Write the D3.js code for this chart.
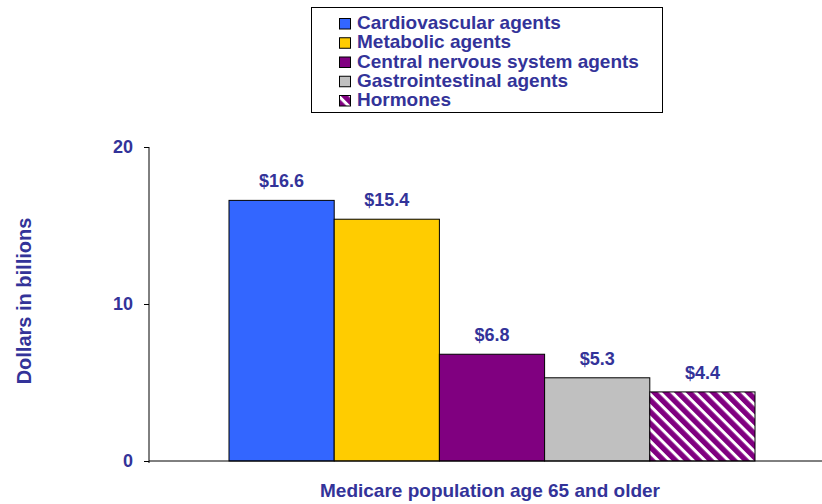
<!DOCTYPE html>
<html>
<head>
<meta charset="utf-8">
<script src="https://cdn.jsdelivr.net/npm/d3@7"></script>
<style>
  body { margin: 0; background: #fff; }
  svg text { font-family: "Liberation Sans", Arial, sans-serif; font-weight: bold; fill: #333399; }
</style>
</head>
<body>
<svg id="chart" width="822" height="504"></svg>
<script>
const categories = ['Cardiovascular agents', 'Metabolic agents', 'Central nervous system agents', 'Gastrointestinal agents', 'Hormones'];
const values = [16.6, 15.4, 6.8, 5.3, 4.4];
const colors = ['#3366ff', '#ffcc00', '#800080', '#c0c0c0', 'url(#hatch)'];
const yTicks = [0, 10, 20];
const groupLabel = 'Medicare population age 65 and older';

const svg = d3.select('#chart');

// diagonal white stripes on purple for the last series
const pat = svg.append('defs').append('pattern')
  .attr('id', 'hatch')
  .attr('patternUnits', 'userSpaceOnUse')
  .attr('width', 8.3).attr('height', 8.3)
  .attr('patternTransform', 'rotate(45)');
pat.append('rect').attr('width', 8.3).attr('height', 8.3).attr('fill', '#800080');
pat.append('rect').attr('x', 0).attr('y', 0).attr('width', 8.3).attr('height', 3).attr('fill', '#fff');

const x0 = 149, x1 = 822;
const y = d3.scaleLinear().domain([0, 20]).range([461, 147]);
const x = d3.scaleBand().domain(categories).range([229, 755]).padding(0);

// bars
svg.selectAll('rect.bar')
  .data(values)
  .join('rect')
  .attr('class', 'bar')
  .attr('x', (d, i) => x(categories[i]))
  .attr('y', d => y(d))
  .attr('width', x.bandwidth())
  .attr('height', d => y(0) - y(d))
  .attr('fill', (d, i) => colors[i])
  .attr('stroke', '#000')
  .attr('stroke-width', 1);

// value labels
svg.selectAll('text.val')
  .data(values)
  .join('text')
  .attr('class', 'val')
  .attr('x', (d, i) => x(categories[i]) + x.bandwidth() / 2)
  .attr('y', d => y(d) - 13)
  .attr('text-anchor', 'middle')
  .style('font-size', '18px')
  .text(d => '$' + d.toFixed(1));

// y axis
const yAxis = svg.append('g')
  .attr('transform', `translate(${x0},0)`)
  .call(d3.axisLeft(y).tickValues(yTicks).tickSize(5).tickPadding(11));
yAxis.select('.domain').attr('stroke', '#000').attr('d', `M0,${y(20)}V${y(0) + 2}`);
yAxis.selectAll('.tick line').attr('stroke', '#000');
yAxis.selectAll('.tick text')
  .style('font-size', '18px')
  .style('font-family', '"Liberation Sans", Arial, sans-serif')
  .style('font-weight', 'bold')
  .attr('fill', '#333399');

// x axis line
svg.append('line')
  .attr('x1', x0).attr('x2', x1)
  .attr('y1', y(0)).attr('y2', y(0))
  .attr('stroke', '#000').attr('stroke-width', 1);

// axis titles
svg.append('text')
  .attr('transform', 'translate(31,301) rotate(-90)')
  .attr('text-anchor', 'middle')
  .style('font-size', '20px')
  .text('Dollars in billions');

svg.append('text')
  .attr('x', 490).attr('y', 497)
  .attr('text-anchor', 'middle')
  .style('font-size', '19px')
  .text(groupLabel);

// legend
const lg = svg.append('g');
lg.append('rect')
  .attr('x', 311.5).attr('y', 7.5)
  .attr('width', 351).attr('height', 105)
  .attr('fill', '#fff').attr('stroke', '#000');

const rows = lg.selectAll('g.row')
  .data(categories)
  .join('g')
  .attr('class', 'row')
  .attr('transform', (d, i) => `translate(339,${29 + i * 19.25})`);
rows.append('rect')
  .attr('x', 0.5).attr('y', -10.5)
  .attr('width', 11).attr('height', 10.5)
  .attr('fill', (d, i) => colors[i])
  .attr('stroke', '#000').attr('stroke-width', 1);
rows.append('text')
  .attr('x', 18).attr('y', 0)
  .style('font-size', '19px')
  .text(d => d);
</script>
</body>
</html>
